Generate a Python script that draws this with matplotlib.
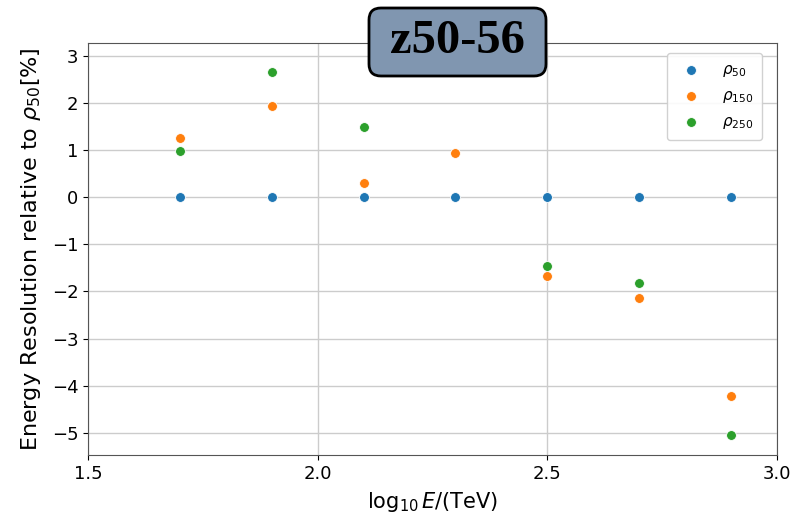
import numpy as np
import matplotlib
matplotlib.use('Agg')
import matplotlib.pyplot as plt
from matplotlib.patches import FancyBboxPatch

# energy bins (log10 E / TeV)
log_e = [1.7, 1.9, 2.1, 2.3, 2.5, 2.7, 2.9]

# resolution relative to rho_50 [%]
rho50 = [0, 0, 0, 0, 0, 0, 0]
rho150 = [1.25, 1.93, 0.30, 0.93, -1.67, -2.14, -4.22]
rho250 = [0.97, 2.65, 1.48, np.nan, -1.46, -1.82, -5.04]

labels = [r'$\rho_{50}$', r'$\rho_{150}$', r'$\rho_{250}$']
colors = ['#1f77b4', '#ff7f0e', '#2ca02c']

W, H = 795, 513
fig = plt.figure(figsize=(W / 100, H / 100), dpi=100)
ax = fig.add_axes([88 / W, 1 - 455 / H, (777 - 88) / W, (455 - 43) / H])

for vals, lab, c in zip([rho50, rho150, rho250], labels, colors):
    ax.scatter(log_e, vals, s=50, color=c, edgecolor='white', linewidth=0.6,
               label=lab, zorder=3)

ax.set_xlim(1.5, 3.0)
ax.set_ylim(-5.47, 3.27)
ax.set_xticks([1.5, 2.0, 2.5, 3.0])
ax.set_yticks(range(-5, 4))
ax.set_yticklabels([str(v).replace('-', '\u2212') for v in range(-5, 4)])
ax.tick_params(labelsize=13)
ax.grid(True, color='#cccccc', linewidth=1)
ax.set_axisbelow(True)
for s in ax.spines.values():
    s.set_color('#555555')

ax.set_xlabel(r'$\log_{10}E$/(TeV)', fontsize=15, labelpad=5)
ax.set_ylabel(r'Energy Resolution relative to $\rho_{50}$[%]', fontsize=16,
              labelpad=6)

ax.legend(loc='upper right', fontsize=11, borderpad=0.6,
          labelspacing=0.6, handletextpad=1.0, framealpha=0.9,
          bbox_to_anchor=(0.99, 0.995))

# title badge pasted on top of the axes
box = FancyBboxPatch((369 / W, 1 - 76 / H), (546 - 369) / W, (76 - 8) / H,
                     boxstyle='round,pad=0,rounding_size=0.015',
                     transform=fig.transFigure, facecolor='#8096b0',
                     edgecolor='black', linewidth=2, mutation_aspect=W / H,
                     zorder=5)
fig.add_artist(box)
fig.text(457 / W, 1 - 41 / H, 'z50-56', fontsize=35, fontweight='bold',
         family=['Liberation Serif', 'DejaVu Serif'], ha='center', va='center',
         zorder=6)

fig.savefig('out.png', dpi=100)
